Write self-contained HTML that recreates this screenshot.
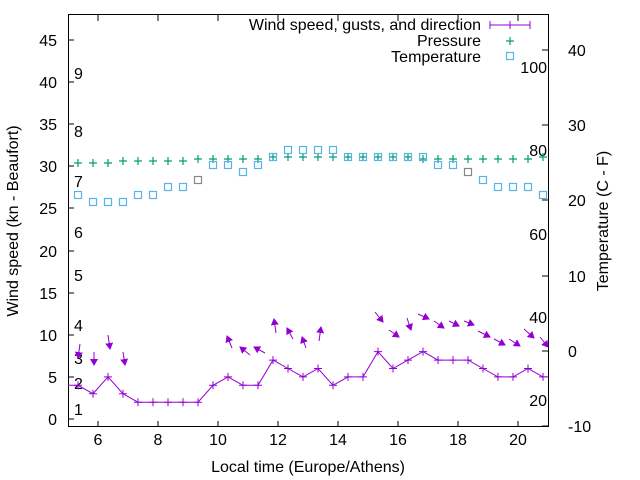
<!DOCTYPE html><html><head><style>body{margin:0;background:#fff}svg{display:block;font-family:"Liberation Sans",sans-serif}</style></head><body>
<svg width="640" height="480" viewBox="0 0 640 480">
<defs>
<marker id="pw" markerWidth="10" markerHeight="10" refX="5" refY="5" markerUnits="userSpaceOnUse"><path d="M1,5H9M5,1V9" stroke="#9400d3" stroke-width="1"/></marker>
<marker id="pp" markerWidth="10" markerHeight="10" refX="5" refY="5" markerUnits="userSpaceOnUse"><path d="M1,5H9M5,1V9" stroke="#009e73" stroke-width="1.2"/></marker>
<marker id="pt" markerWidth="10" markerHeight="10" refX="5" refY="5" markerUnits="userSpaceOnUse"><rect x="1.5" y="1.5" width="7" height="7" fill="none" stroke="#56b4e9" stroke-width="1.2"/></marker>
<marker id="ah" markerWidth="8" markerHeight="8" refX="6" refY="4" orient="auto" markerUnits="userSpaceOnUse"><path d="M0,0L7,4L0,8z" fill="#9400d3"/></marker>
</defs>
<g stroke="#000" stroke-width="1" fill="none">
<rect x="68.5" y="14.5" width="480" height="412"/>
<path d="M68,419h6M68,377h6M68,335h6M68,293h6M68,251h6M68,208h6M68,166h6M68,124h6M68,82h6M68,40h6"/>
<path d="M98,427v-6M158,427v-6M218,427v-6M278,427v-6M338,427v-6M398,427v-6M458,427v-6M518,427v-6M98,15v6M158,15v6M218,15v6M278,15v6M338,15v6M398,15v6M458,15v6M518,15v6"/>
<path d="M548,426h-6M548,351h-6M548,276h-6M548,200h-6M548,125h-6M548,50h-6"/>
</g>
<g font-size="16" fill="#000" text-anchor="end">
<text x="57" y="425">0</text><text x="57" y="383">5</text><text x="57" y="341">10</text><text x="57" y="299">15</text><text x="57" y="257">20</text><text x="57" y="214">25</text><text x="57" y="172">30</text><text x="57" y="130">35</text><text x="57" y="88">40</text><text x="57" y="46">45</text>
</g>
<g font-size="16" fill="#000" text-anchor="middle">
<text x="98" y="445">6</text><text x="158" y="445">8</text><text x="218" y="445">10</text><text x="278" y="445">12</text><text x="338" y="445">14</text><text x="398" y="445">16</text><text x="458" y="445">18</text><text x="518" y="445">20</text>
<text x="308" y="472">Local time (Europe/Athens)</text>
<text transform="translate(18,221) rotate(-90)">Wind speed (kn - Beaufort)</text>
<text transform="translate(608,221) rotate(-90)">Temperature (C - F)</text>
</g>
<g font-size="16" fill="#000">
<text x="568" y="432">-10</text><text x="568" y="357">0</text><text x="568" y="282">10</text><text x="568" y="206">20</text><text x="568" y="131">30</text><text x="568" y="56">40</text>
<text x="74" y="415">1</text><text x="74" y="389">2</text><text x="74" y="364">3</text><text x="74" y="331">4</text><text x="74" y="281">5</text><text x="74" y="238">6</text><text x="74" y="187">7</text><text x="74" y="137">8</text><text x="74" y="79">9</text>
</g>
<g font-size="16" fill="#000" text-anchor="end">
<text x="547" y="73">100</text><text x="547" y="156">80</text><text x="547" y="240">60</text><text x="547" y="323">40</text><text x="547" y="406">20</text>
<text x="481" y="30">Wind speed, gusts, and direction</text><text x="481" y="46">Pressure</text><text x="481" y="62">Temperature</text>
</g>
<path d="M490,25H530M490,21v8M510,21v8M530,21v8" stroke="#9400d3" fill="none"/>
<path d="M506,41h8M510,37v8" stroke="#009e73" stroke-width="1.2"/>
<rect x="506.5" y="52.5" width="7" height="7" fill="none" stroke="#56b4e9" stroke-width="1.2"/>
<polyline fill="none" stroke="#9400d3" stroke-width="1" marker-mid="url(#pw)" points="68,385.3 78,385.3 93,393.7 108,376.9 123,393.7 138,402.2 153,402.2 168,402.2 183,402.2 198,402.2 213,385.3 228,376.9 243,385.3 258,385.3 273,360.1 288,368.5 303,376.9 318,368.5 333,385.3 348,376.9 363,376.9 378,351.6 393,368.5 408,360.1 423,351.6 438,360.1 453,360.1 468,360.1 483,368.5 498,376.9 513,376.9 528,368.5 543,376.9 548,376.9"/>
<polyline fill="none" stroke="none" marker-start="url(#pp)" marker-mid="url(#pp)" marker-end="url(#pp)" points="78,163 93,163 108,163 123,161 138,161 153,161 168,161 183,161 198,159 213,159 228,159 243,159 258,159 273,157 288,157 303,157 318,157 333,157 348,157 363,157 378,157 393,157 408,157 423,159 438,159 453,159 468,159 483,159 498,159 513,159 528,159 543,157"/>
<polyline fill="none" stroke="none" marker-start="url(#pt)" marker-mid="url(#pt)" marker-end="url(#pt)" points="78,195 93,202 108,202 123,202 138,195 153,195 168,187 183,187 213,165 228,165 243,172 258,165 273,157 288,150 303,150 318,150 333,150 348,157 363,157 378,157 393,157 408,157 423,157 438,165 453,165 483,180 498,187 513,187 528,187 543,195"/>
<rect x="194.5" y="176.5" width="7" height="7" fill="none" stroke="#888" stroke-width="1.2"/>
<rect x="464.5" y="168.5" width="7" height="7" fill="none" stroke="#888" stroke-width="1.2"/>
<g stroke="#9400d3" stroke-width="1" marker-end="url(#ah)">
<line x1="80" y1="344" x2="78" y2="358"/><line x1="94" y1="352" x2="94" y2="365"/><line x1="108" y1="335" x2="110" y2="349"/><line x1="123" y1="352" x2="125" y2="365"/>
<line x1="232" y1="348" x2="227" y2="336"/><line x1="250" y1="355" x2="240" y2="347"/><line x1="265" y1="353" x2="254" y2="347"/><line x1="276" y1="333" x2="274" y2="319"/><line x1="293" y1="339" x2="287" y2="328"/><line x1="306" y1="348" x2="302" y2="337"/><line x1="319" y1="341" x2="321" y2="327"/>
<line x1="375" y1="312" x2="383" y2="322"/><line x1="389" y1="330" x2="399" y2="337"/><line x1="407" y1="318" x2="411" y2="330"/><line x1="418" y1="314" x2="429" y2="319"/><line x1="434" y1="321" x2="444" y2="328"/><line x1="449" y1="321" x2="459" y2="326"/><line x1="464" y1="321" x2="474" y2="325"/><line x1="478" y1="331" x2="490" y2="337"/><line x1="494" y1="339" x2="505" y2="345"/><line x1="509" y1="339" x2="520" y2="346"/><line x1="524" y1="329" x2="534" y2="338"/><line x1="540" y1="337" x2="548" y2="347"/>
</g>
</svg>
</body></html>
